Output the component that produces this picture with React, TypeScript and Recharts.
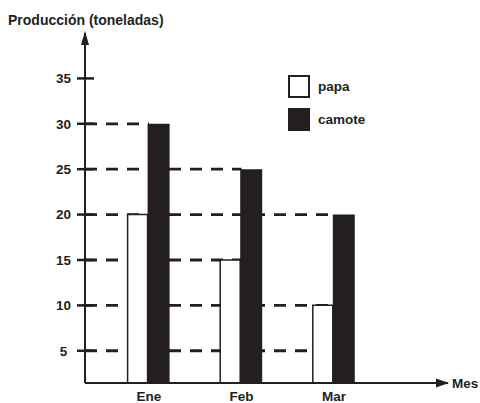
import { BarChart, Bar, XAxis, YAxis, ReferenceLine, ReferenceDot, Legend } from 'recharts';

const months = ['Ene', 'Feb', 'Mar'];
const papa = [20, 15, 10];
const camote = [30, 25, 20];
const yTicks = [5, 10, 15, 20, 25, 30, 35];
// dashed guide lines: level and the month where the line stops
const gridLevels = [5, 10, 15, 20, 25, 30];
const gridUntil = ['Mar', 'Mar', 'Feb', 'Mar', 'Feb', 'Ene'];

const xDomain = [0.31, 4.23];
const yDomain = [1.45, 40];

const INK = '#231f20';
const FONT = '"Liberation Sans", Arial, Helvetica, sans-serif';

const rows = months.map((mes, i) => ({ mes, pos: i + 1, papa: papa[i], camote: camote[i] }));

function YTick({ x, y, payload }: any) {
    return (
        <g>
            <line x1={x - 8} x2={x + 9} y1={y} y2={y} stroke={INK} strokeWidth={2.5} />
            <text
                x={x - 21.5}
                y={y}
                dy="0.36em"
                textAnchor="middle"
                fontSize={13.5}
                fontWeight="bold"
                fontFamily={FONT}
                fill={INK}
            >
                {payload.value}
            </text>
        </g>
    );
}

const upArrow = (p: any) => (
    <polygon points={`${p.cx},${p.cy - 2} ${p.cx - 4},${p.cy + 12} ${p.cx + 4},${p.cy + 12}`} fill={INK} />
);
const rightArrow = (p: any) => (
    <polygon points={`${p.cx + 1},${p.cy} ${p.cx - 12},${p.cy - 4.5} ${p.cx - 12},${p.cy + 4.5}`} fill={INK} />
);

function LegendBox() {
    const items = [
        { label: 'papa', fill: '#ffffff' },
        { label: 'camote', fill: INK },
    ];
    return (
        <div style={{ fontFamily: FONT, fontWeight: 'bold', fontSize: 13.5, color: INK }}>
            {items.map((it) => (
                <div key={it.label} style={{ display: 'flex', alignItems: 'center', height: 23, marginBottom: 10 }}>
                    <div
                        style={{
                            width: 18,
                            height: 19,
                            background: it.fill,
                            border: `2px solid ${INK}`,
                            marginRight: 8,
                        }}
                    />
                    <span>{it.label}</span>
                </div>
            ))}
        </div>
    );
}

export default function App() {
    return (
        <div style={{ position: 'absolute', left: 0, top: 0, width: 480, height: 403, background: '#fff' }}>
            <div
                style={{
                    position: 'absolute',
                    left: 8,
                    top: 13,
                    fontFamily: FONT,
                    fontWeight: 'bold',
                    fontSize: 14,
                    lineHeight: 1,
                    color: INK,
                    whiteSpace: 'nowrap',
                }}
            >
                Producción (toneladas)
            </div>
            <div
                style={{
                    position: 'absolute',
                    left: 452,
                    top: 376.5,
                    fontFamily: FONT,
                    fontWeight: 'bold',
                    fontSize: 13.5,
                    lineHeight: 1,
                    color: INK,
                }}
            >
                Mes
            </div>
            <BarChart
                width={480}
                height={403}
                data={rows}
                margin={{ top: 33, right: 32, bottom: 0, left: 0 }}
                barGap={0}
            >
                <XAxis
                    type="number"
                    dataKey="pos"
                    domain={xDomain}
                    allowDataOverflow
                    ticks={[1, 2, 3]}
                    tickFormatter={(v: number) => months[v - 1]}
                    tickLine={false}
                    axisLine={{ stroke: INK, strokeWidth: 2 }}
                    tick={{ fill: INK, fontSize: 13.5, fontWeight: 'bold', fontFamily: FONT }}
                    height={20}
                />
                <YAxis
                    type="number"
                    domain={yDomain}
                    allowDataOverflow
                    ticks={yTicks}
                    interval={0}
                    tickLine={false}
                    tickSize={0}
                    tickMargin={0}
                    tick={<YTick />}
                    axisLine={{ stroke: INK, strokeWidth: 2 }}
                    width={85}
                />
                {gridLevels.map((v, i) => (
                    <ReferenceLine
                        key={v}
                        zIndex={50}
                        ifOverflow="visible"
                        segment={[
                            { x: xDomain[0], y: v },
                            { x: months.indexOf(gridUntil[i]) + 1, y: v },
                        ]}
                        stroke={INK}
                        strokeWidth={2.8}
                        strokeDasharray="12 9"
                    />
                ))}
                <Legend
                    layout="vertical"
                    align="center"
                    verticalAlign="middle"
                    content={<LegendBox />}
                    wrapperStyle={{ left: 288, top: 75, width: 'auto' }}
                />
                <Bar dataKey="papa" barSize={20} fill="#ffffff" stroke={INK} strokeWidth={1.5} isAnimationActive={false} />
                <Bar dataKey="camote" barSize={22} fill={INK} isAnimationActive={false} />
                <ReferenceDot x={xDomain[0]} y={yDomain[1]} ifOverflow="visible" shape={upArrow} />
                <ReferenceDot x={xDomain[1]} y={yDomain[0]} ifOverflow="visible" shape={rightArrow} />
            </BarChart>
        </div>
    );
}
